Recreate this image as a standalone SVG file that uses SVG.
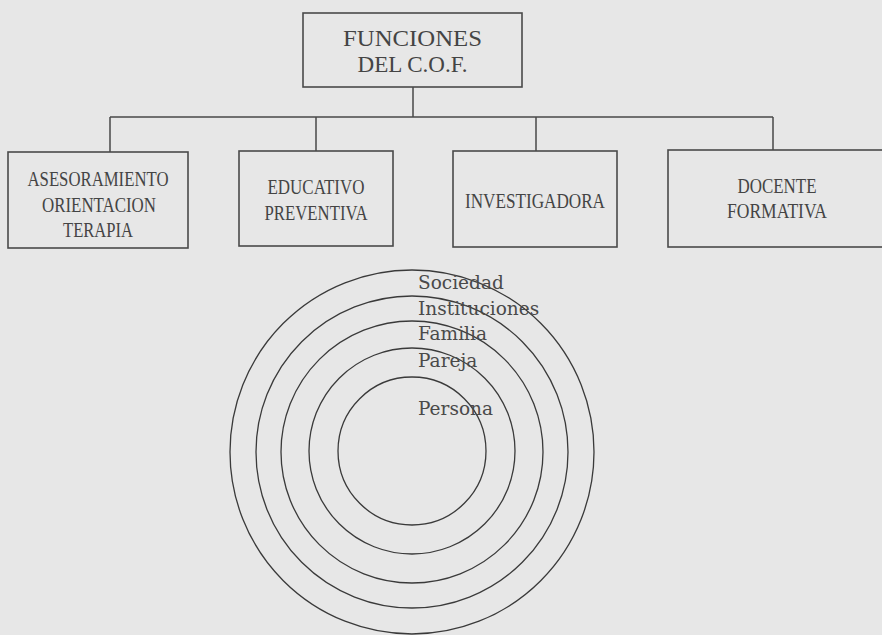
<svg xmlns="http://www.w3.org/2000/svg" width="882" height="635" viewBox="0 0 882 635">
<style>
.box{fill:none;stroke:#4a4a4a;stroke-width:1.6}
.ln{fill:none;stroke:#4a4a4a;stroke-width:1.5}
.ring{fill:none;stroke:#3a3a3a;stroke-width:1.3}
.bt{font-family:"Liberation Serif",serif;font-size:22px;fill:#444;text-anchor:middle}
.tt{font-family:"Liberation Serif",serif;font-size:24px;fill:#444;text-anchor:middle}
.rl{font-family:"DejaVu Serif",serif;font-size:18.5px;fill:#4a4a4a}
</style>
<rect width="882" height="635" fill="#e7e7e7"/>
<g id="connectors">
<path class="ln" d="M413 87V117M110 117H773M110 117V152M316 117V151M536 117V151M773 117V150"/>
</g>
<g id="root">
<rect class="box" x="303" y="13" width="219" height="74"/>
<text class="tt" x="412.5" y="46" textLength="139" lengthAdjust="spacingAndGlyphs">FUNCIONES</text>
<text class="tt" x="412.5" y="72" textLength="110" lengthAdjust="spacingAndGlyphs">DEL C.O.F.</text>
</g>
<g id="asesoramiento">
<rect class="box" x="8" y="152" width="180" height="96"/>
<text class="bt" x="98" y="186" textLength="141" lengthAdjust="spacingAndGlyphs">ASESORAMIENTO</text>
<text class="bt" x="99" y="212" textLength="114" lengthAdjust="spacingAndGlyphs">ORIENTACION</text>
<text class="bt" x="98" y="237" textLength="70" lengthAdjust="spacingAndGlyphs">TERAPIA</text>
</g>
<g id="educativo">
<rect class="box" x="239" y="151" width="154" height="95"/>
<text class="bt" x="316" y="194" textLength="97" lengthAdjust="spacingAndGlyphs">EDUCATIVO</text>
<text class="bt" x="316" y="220" textLength="103" lengthAdjust="spacingAndGlyphs">PREVENTIVA</text>
</g>
<g id="investigadora">
<rect class="box" x="453" y="151" width="164" height="96"/>
<text class="bt" x="535" y="208" textLength="140" lengthAdjust="spacingAndGlyphs">INVESTIGADORA</text>
</g>
<g id="docente">
<rect class="box" x="668" y="150" width="220" height="97"/>
<text class="bt" x="777" y="193" textLength="79" lengthAdjust="spacingAndGlyphs">DOCENTE</text>
<text class="bt" x="777" y="218" textLength="100" lengthAdjust="spacingAndGlyphs">FORMATIVA</text>
</g>
<g id="rings">
<circle class="ring" cx="412" cy="452" r="182"/>
<circle class="ring" cx="412" cy="452" r="156"/>
<circle class="ring" cx="412" cy="452" r="131"/>
<circle class="ring" cx="412" cy="451" r="103"/>
<circle class="ring" cx="412" cy="451" r="74"/>
<text class="rl" x="418" y="289">Sociedad</text>
<text class="rl" x="418" y="315">Instituciones</text>
<text class="rl" x="418" y="340">Familia</text>
<text class="rl" x="418" y="367">Pareja</text>
<text class="rl" x="418" y="415">Persona</text>
</g>
</svg>
